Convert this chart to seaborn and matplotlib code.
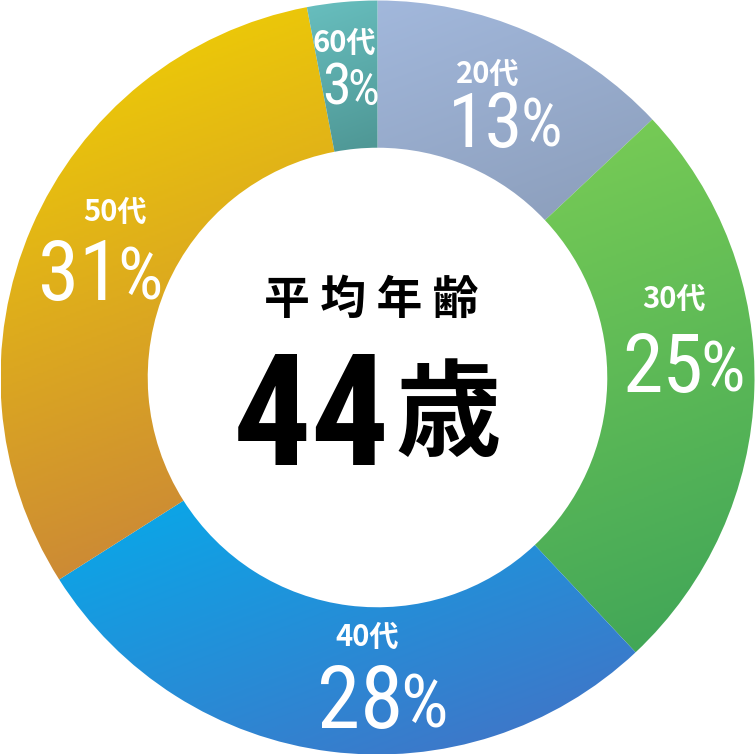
import numpy as np
import matplotlib
matplotlib.use("Agg")
import matplotlib.pyplot as plt
import seaborn as sns
from matplotlib import font_manager

# data
ages = ["20代", "30代", "40代", "50代", "60代"]
shares = [13, 25, 28, 31, 3]
center_title = "平 均 年 齢"
center_value = "44"
center_unit = "歳"

# gradient end colours per wedge (light -> dark)
top_colors = ["#a2b8dc", "#7acd55", "#06aaea", "#f2d400", "#68bfbf"]
bottom_colors = ["#8b9dba", "#3ea458", "#4670c4", "#c67e3e", "#4e9694"]

# label placement / sizes per wedge
pct_sizes = [55, 59, 63, 60, 42]
label_r = [0.762, 0.812, 0.845, 0.788, 0.781]
angle_nudge = [-2.9, 4.6, 8.1, 2.2, -0.2]
age_dx = [-17, -10, -15, 15, -7]
age_dy = [-49, -67, -63, -61, -44]

sns.set_style("white")
names = {f.name for f in font_manager.fontManager.ttflist}
cond = next((f for f in ["Roboto Condensed", "Liberation Sans Narrow"] if f in names), "DejaVu Sans")
jp = ["Noto Sans CJK JP", "DejaVu Sans"]
plt.rcParams["font.family"] = jp

C = 377.5  # half size in px


def to_data(px, py):
    return (px - C) / C, (C - py) / C


def polar(angle_deg, r):
    a = np.deg2rad(angle_deg)
    return r * np.cos(a), r * np.sin(a)


fig = plt.figure(figsize=(7.55, 7.55), dpi=100)
ax = fig.add_axes([0, 0, 1, 1])
ax.set_xlim(-1, 1)
ax.set_ylim(-1, 1)
ax.set_aspect("equal")
ax.axis("off")

wedges, _ = ax.pie(shares, radius=377 / C, startangle=90, counterclock=False,
                   wedgeprops=dict(width=0.39, linewidth=0))

# gradient fill clipped to each wedge
direction = np.array([0.35, -0.94])
for w, c0, c1 in zip(wedges, top_colors, bottom_colors):
    w.set_facecolor("none")
    bb = w.get_path().get_extents()
    xs = np.linspace(bb.x0, bb.x1, 300)
    ys = np.linspace(bb.y1, bb.y0, 300)
    X, Y = np.meshgrid(xs, ys)
    proj = X * direction[0] + Y * direction[1]
    t = (proj - proj.min()) / (proj.max() - proj.min())
    cmap = sns.blend_palette([c0, c1], as_cmap=True)
    im = ax.imshow(t, cmap=cmap, extent=(bb.x0, bb.x1, bb.y0, bb.y1),
                   origin="upper", interpolation="bilinear", aspect="auto", zorder=1)
    im.set_clip_path(w)

ax.set_xlim(-1, 1)
ax.set_ylim(-1, 1)

# wedge labels: number + slightly smaller percent sign
bounds = 90 - np.concatenate([[0], np.cumsum(shares)]) * 3.6
pending = []
for i, (age, val) in enumerate(zip(ages, shares)):
    mid = (bounds[i] + bounds[i + 1]) / 2 + angle_nudge[i]
    x, y = polar(mid, label_r[i])
    px, py = x * C + C, C - y * C
    h = pct_sizes[i] * 100 / 72 * 0.716
    base = py + h / 2
    tn = ax.text(0, 0, str(val), ha="left", va="baseline", fontsize=pct_sizes[i],
                 color="white", family=[cond, "DejaVu Sans"], zorder=3)
    tp = ax.text(0, 0, "%", ha="left", va="baseline", fontsize=pct_sizes[i] * 0.86,
                 color="white", family=[cond, "DejaVu Sans"], zorder=3)
    pending.append((tn, tp, px, base))
    ax.text(*to_data(px + age_dx[i], py + age_dy[i] + 12), age, ha="center", va="baseline",
            fontsize=21, fontweight="bold", color="white", family=jp, zorder=3)

fig.canvas.draw()
renderer = fig.canvas.get_renderer()
for tn, tp, px, base in pending:
    wn = tn.get_window_extent(renderer).width
    wp = tp.get_window_extent(renderer).width
    gap = -3
    left = px - (wn + gap + wp) / 2
    tn.set_position(to_data(left, base))
    tp.set_position(to_data(left + wn + gap, base))

# centre text
ax.text(*to_data(371, 301), center_title, ha="center", va="center",
        fontsize=33, fontweight="bold", color="black", family=jp)
ax.text(*to_data(390, 465), center_value, ha="right", va="baseline",
        fontsize=112, fontweight="bold", color="black", family=[cond, "DejaVu Sans"])
ax.text(*to_data(395, 417), center_unit, ha="left", va="center",
        fontsize=76, fontweight="bold", color="black", family=jp)

fig.savefig("out.png", dpi=100, facecolor="white")
